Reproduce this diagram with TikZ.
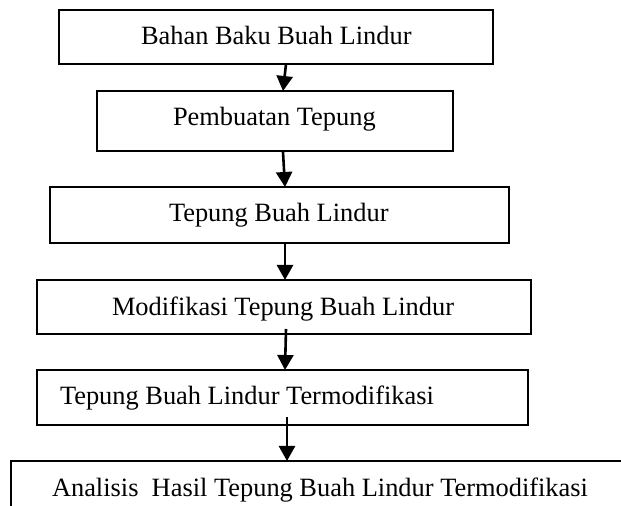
\documentclass[tikz,border=0pt]{standalone}
\usepackage{fontspec}
\setmainfont{Liberation Serif}
\usetikzlibrary{arrows.meta}
\begin{document}
\begin{tikzpicture}[x=0.5pt,y=-0.5pt,
  boxnode/.style={draw,line width=0.95pt,inner sep=0pt,outer sep=0pt},
  lbl/.style={anchor=base west,inner sep=0pt,outer sep=0pt,font=\fontsize{13.2}{16}\selectfont},
  arr/.style={line width=1.3pt,-{Triangle[width=8pt,length=7.5pt]}}]
\useasboundingbox (0,0) rectangle (621,506);
\clip (0,0) rectangle (621,506);
\fill[white] (0,0) rectangle (621,506);
% boxes
\node[boxnode,minimum width=217pt,minimum height=27pt] (b1) at (276,37) {};
\node[boxnode,minimum width=178pt,minimum height=30pt] (b2) at (275,121) {};
\node[boxnode,minimum width=229.5pt,minimum height=28pt] (b3) at (279.5,215) {};
\node[boxnode,minimum width=247pt,minimum height=27pt] (b4) at (284,307) {};
\node[boxnode,minimum width=245.5pt,minimum height=27.5pt] (b5) at (282.5,397.5) {};
\node[boxnode,minimum width=324.5pt,minimum height=39.5pt] (b6) at (335.5,500.5) {};
% texts
\node[lbl] (t1) at (141,45) {Bahan Baku Buah Lindur};
\node[lbl] (t2) at (173,126) {Pembuatan Tepung};
\node[lbl] (t3) at (169,222) {Tepung Buah Lindur};
\node[lbl] (t4) at (112,316) {Modifikasi Tepung Buah Lindur};
\node[lbl] (t5) at (60,405) {Tepung Buah Lindur Termodifikasi};
\node[lbl] (t6) at (52,497) {Analisis~ Hasil Tepung Buah Lindur Termodifikasi};
% arrows
\coordinate (s1) at (286,64);
\coordinate (s2) at (283,152);
\coordinate (s3) at (285,243);
\coordinate (s4) at (286,329);
\coordinate (s5) at (287,417);
\draw[arr] (s1) -- ([xshift=-1.5pt]s1 |- b2.north);
\draw[arr] (s2) -- ([xshift=1pt]s2 |- b3.north);
\draw[arr] (s3) -- (s3 |- b4.north);
\draw[arr] (s4) -- ([xshift=-0.5pt]s4 |- b5.north);
\draw[arr] (s5) -- (s5 |- b6.north);
\end{tikzpicture}
\end{document}
